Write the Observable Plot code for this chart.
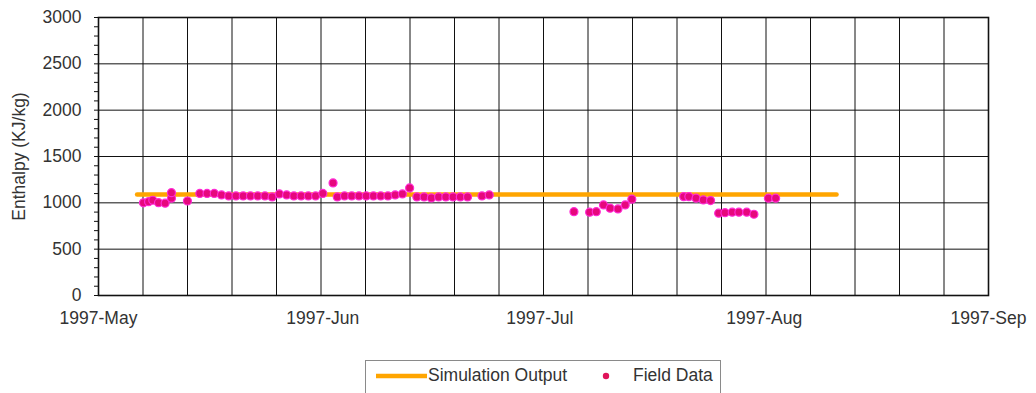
<!DOCTYPE html>
<html>
<head>
<meta charset="utf-8">
<script src="https://cdn.jsdelivr.net/npm/d3@7"></script>
<script src="https://cdn.jsdelivr.net/npm/@observablehq/plot@0.6"></script>
<style>
  html, body { margin: 0; padding: 0; background: #fff; }
  #wrap { position: relative; width: 1036px; height: 393px; overflow: hidden; font-family: "Liberation Sans", Arial, sans-serif; }
  #legend { position: absolute; left: 365px; top: 360px; width: 356px; height: 40px; border: 1px solid #8a8a8a; box-sizing: border-box; }
  #legend .item { position: absolute; top: 2px; font-size: 17.5px; color: #333; line-height: 24px; white-space: nowrap; }
</style>
</head>
<body>
<div id="wrap">
  <div id="chart"></div>
  <div id="legend">
    <svg style="position:absolute;left:9px;top:11px" width="54" height="8"><line x1="1" y1="4" x2="52" y2="4" stroke="#FFA500" stroke-width="4.5"/></svg>
    <span class="item" style="left:62px">Simulation Output</span>
    <svg style="position:absolute;left:234px;top:9px" width="12" height="12"><circle cx="6" cy="6" r="3.2" fill="#e0145a"/></svg>
    <span class="item" style="left:267px">Field Data</span>
  </div>
</div>
<script>
// Axis domain and ticks
const xStart = "1997-05-01";
const xEnd = "1997-09-01";
const monthTicks = ["1997-05-01", "1997-06-01", "1997-07-01", "1997-08-01", "1997-09-01"];
const yTicks = [0, 500, 1000, 1500, 2000, 2500, 3000];
const yMinorTicks = d3.range(0, 3001, 100);

// Simulation output (constant)
const simDates = ["1997-05-06T08:00Z", "1997-08-11T00:00Z"];
const simValues = [1090, 1090];

// Field data
const fieldDates = [
  "1997-05-07T05:00Z", "1997-05-07T22:00Z", "1997-05-08T12:00Z", "1997-05-09T07:00Z",
  "1997-05-10T05:00Z", "1997-05-11T02:00Z", "1997-05-11T02:00Z", "1997-05-13T07:00Z",
  "1997-05-15", "1997-05-16", "1997-05-17", "1997-05-18", "1997-05-19", "1997-05-20",
  "1997-05-21", "1997-05-22", "1997-05-23", "1997-05-24", "1997-05-25", "1997-05-26",
  "1997-05-27", "1997-05-28", "1997-05-29", "1997-05-30", "1997-05-31", "1997-06-01",
  "1997-06-02T10:00Z", "1997-06-03", "1997-06-04", "1997-06-05", "1997-06-06", "1997-06-07",
  "1997-06-08", "1997-06-09", "1997-06-10", "1997-06-11", "1997-06-12", "1997-06-13",
  "1997-06-14", "1997-06-15", "1997-06-16", "1997-06-17", "1997-06-18", "1997-06-19",
  "1997-06-20", "1997-06-21", "1997-06-23", "1997-06-24",
  "1997-07-05T17:00Z", "1997-07-07T21:00Z", "1997-07-08T19:00Z", "1997-07-09T19:00Z",
  "1997-07-10T17:00Z", "1997-07-11T19:00Z", "1997-07-12T19:00Z", "1997-07-13T17:00Z",
  "1997-07-20T21:00Z", "1997-07-21T14:00Z", "1997-07-22T14:00Z", "1997-07-23T14:00Z",
  "1997-07-24T14:00Z", "1997-07-25T17:00Z", "1997-07-26T14:00Z", "1997-07-27T14:00Z",
  "1997-07-28T12:00Z", "1997-07-29T14:00Z", "1997-07-30T14:00Z",
  "1997-08-01T14:00Z", "1997-08-02T14:00Z"
];
const fieldValues = [
  1000, 1013, 1028, 1002, 996, 1050, 1110, 1020,
  1102, 1102, 1102, 1085, 1075, 1075,
  1075, 1075, 1075, 1075, 1064, 1096,
  1085, 1075, 1075, 1075, 1075, 1102,
  1215, 1064, 1075, 1075, 1075, 1075,
  1075, 1075, 1075, 1085, 1096, 1161,
  1064, 1064, 1053, 1064, 1064, 1064,
  1064, 1064, 1075, 1085,
  905, 899, 905, 977, 942, 934, 977, 1039,
  1067, 1067, 1050, 1031, 1024, 888, 894, 899,
  899, 899, 877,
  1050, 1050
];

const toDate = s => new Date(s);
const domain = [toDate(xStart), toDate(xEnd)];
const field = fieldDates.map((d, i) => ({date: toDate(d), value: fieldValues[i]}));
const sim = simDates.map((d, i) => ({date: toDate(d), value: simValues[i]}));
// 20 equal grid intervals across the date axis
const xGrid = d3.range(21).map(i => new Date(+domain[0] + i * (domain[1] - domain[0]) / 20));

const chart = Plot.plot({
  width: 1036,
  height: 345,
  marginLeft: 98,
  marginRight: 48,
  marginTop: 17,
  marginBottom: 50,
  style: {fontFamily: "Liberation Sans, Arial, sans-serif", fontSize: "17.5px", color: "#333", background: "#fff", overflow: "visible"},
  x: {type: "utc", domain},
  y: {domain: [0, 3000]},
  marks: [
    Plot.ruleX(xGrid, {stroke: "#111", strokeWidth: 1}),
    Plot.ruleY(yTicks, {stroke: "#111", strokeWidth: 1}),
    Plot.axisY(yMinorTicks, {tickSize: 4, text: null, stroke: "#111", label: null}),
    Plot.axisY(yTicks, {tickSize: 0, tickPadding: 17, tickFormat: d => String(d), label: "Enthalpy (KJ/kg)", labelAnchor: "center", labelArrow: "none", labelOffset: 86, fill: "#333"}),
    Plot.axisX(monthTicks.map(toDate), {tickSize: 0, tickPadding: 16, tickFormat: d3.utcFormat("%Y-%b"), label: null, fill: "#333"}),
    Plot.line(sim, {x: "date", y: "value", stroke: "#FFA500", strokeWidth: 4.5}),
    Plot.dot(field, {x: "date", y: "value", r: 4, fill: "#e6087c", stroke: "#ff2bd6", strokeWidth: 1.2}),
    Plot.frame({stroke: "#111", strokeWidth: 1.6})
  ]
});
document.getElementById("chart").appendChild(chart);
</script>
</body>
</html>
